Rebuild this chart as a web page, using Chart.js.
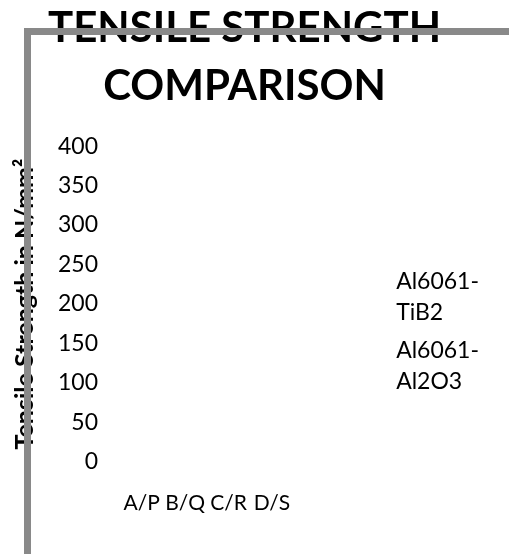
<!DOCTYPE html>
<html>
<head>
<meta charset="utf-8">
<title>Tensile Strength Comparison</title>
<script src="https://cdn.jsdelivr.net/npm/chart.js@4.4.1/dist/chart.umd.min.js"></script>
<style>
    html, body { margin: 0; padding: 0; background: #ffffff; }
    #wrap { position: relative; width: 509px; height: 554px; }
</style>
</head>
<body>
<div id="wrap"><canvas id="tensileChart"></canvas></div>
<script>
// ==========================
// Dữ liệu biểu đồ
// ==========================
const categories = ['A/P', 'B/Q', 'C/R', 'D/S'];
const seriesNames = [['Al6061-', 'TiB2'], ['Al6061-', 'Al2O3']];
// Hình gốc không hiển thị cột nào -> để trống
const tib2Values = [null, null, null, null];
const al2o3Values = [null, null, null, null];
const yTicks = [0, 50, 100, 150, 200, 250, 300, 350, 400];

const FONT = 'Lato, "Open Sans", sans-serif';

// Khung xám (trên + trái) vẽ đè lên cùng
const framePlugin = {
    id: 'frame',
    afterDraw(chart) {
        const ctx = chart.ctx;
        ctx.save();
        ctx.strokeStyle = '#898989';
        ctx.lineWidth = 7;
        ctx.lineJoin = 'miter';
        ctx.beginPath();
        ctx.moveTo(27.5, chart.height);
        ctx.lineTo(27.5, 31.5);
        ctx.lineTo(chart.width, 31.5);
        ctx.stroke();
        ctx.restore();
    }
};

const ctx = document.getElementById('tensileChart').getContext('2d');
new Chart(ctx, {
    type: 'bar',
    data: {
        labels: categories,
        datasets: [
            { label: seriesNames[0].join(''), data: tib2Values, backgroundColor: '#4472c4' },
            { label: seriesNames[1].join(''), data: al2o3Values, backgroundColor: '#ed7d31' }
        ]
    },
    options: {
        responsive: true,
        maintainAspectRatio: false,
        animation: false,
        layout: { padding: { top: 0, left: 0, right: 20, bottom: 0 } },
        plugins: {
            title: {
                display: true,
                text: ['TENSILE STRENGTH', 'COMPARISON'],
                color: '#000000',
                font: { family: FONT, size: 42, weight: 'bold', lineHeight: 1.37 },
                padding: { top: 0, bottom: 31 }
            },
            legend: {
                position: 'right',
                fullSize: false,
                maxWidth: 300,
                title: { display: true, text: '', padding: { top: 48, bottom: 0 } },
                labels: {
                    color: '#000000',
                    font: { family: FONT, size: 23, lineHeight: 1.35 },
                    boxWidth: 84,
                    padding: 7,
                    generateLabels: (chart) => seriesNames.map((name, i) => ({
                        text: name,
                        fontColor: '#000000',
                        fillStyle: 'rgba(0,0,0,0)',
                        strokeStyle: 'rgba(0,0,0,0)',
                        lineWidth: 0,
                        hidden: false,
                        datasetIndex: i
                    }))
                }
            },
            tooltip: { enabled: false }
        },
        scales: {
            x: {
                grid: { display: false, drawTicks: false },
                border: { display: false },
                ticks: {
                    color: '#000000',
                    font: { family: FONT, size: 21 },
                    padding: 29,
                    maxRotation: 0,
                    autoSkip: false
                },
                afterFit: (scale) => { scale.height = 92; }
            },
            y: {
                min: 0,
                max: 400,
                grid: { display: false, drawTicks: false },
                border: { display: false },
                afterBuildTicks: (scale) => { scale.ticks = yTicks.map(v => ({ value: v })); },
                ticks: {
                    color: '#000000',
                    font: { family: FONT, size: 23 },
                    padding: 22
                },
                title: {
                    display: true,
                    text: 'Tensile Strength in N/mm²',
                    color: '#000000',
                    font: { family: FONT, size: 25, weight: 'bold', lineHeight: 1.2 },
                    padding: { top: 10, bottom: 0 }
                },
                afterFit: (scale) => { scale.width = 120; }
            }
        }
    },
    plugins: [framePlugin]
});
</script>
</body>
</html>
